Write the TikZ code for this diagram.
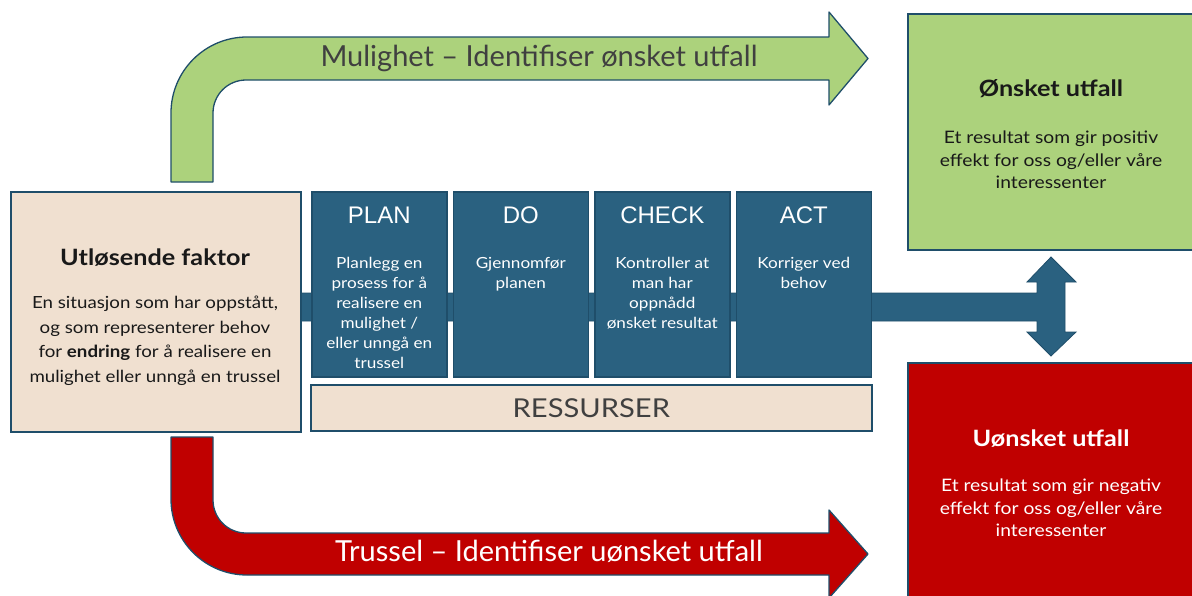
\documentclass[tikz,border=0pt]{standalone}
\usepackage{fontspec}
\setmainfont[FakeStretch=1.12]{Lato}
\newfontfamily\arrowfont{Lato}
\newfontfamily\headfont{Liberation Sans}
\usetikzlibrary{calc}
\definecolor{dblue}{RGB}{31,78,106}
\definecolor{pblue}{RGB}{42,97,128}
\definecolor{beige}{RGB}{240,224,208}
\definecolor{lgreen}{RGB}{172,210,124}
\definecolor{dred}{RGB}{192,0,0}
\definecolor{tgray}{RGB}{64,64,64}
\definecolor{tblack}{RGB}{25,25,25}
\begin{document}
\begin{tikzpicture}[x=1pt,y=-1pt,
  box/.style={draw=dblue,line width=1.6pt,rectangle,inner sep=0pt,anchor=north west},
  pdca/.style={box,fill=pblue,minimum width=135pt,minimum height=185pt},
  pdcahead/.style={anchor=base,text=white,font=\headfont\fontsize{24}{26}\selectfont,inner sep=0pt},
  pdcabody/.style={anchor=north,text=white,align=center,font=\fontsize{15.3}{20}\selectfont,inner sep=0pt},
  bigarrow/.style={draw=dblue,line width=1.3pt,line join=round},
  arrowtext/.style={font=\arrowfont\fontsize{29}{30}\selectfont,inner sep=0pt},
  title/.style={anchor=base,font=\fontsize{22.5}{25}\selectfont\bfseries,inner sep=0pt},
  body/.style={anchor=north,align=center,font=\fontsize{17.2}{22.5}\selectfont,inner sep=0pt}
]
\useasboundingbox (0,0) rectangle (1192,595);
\clip (0,0) rectangle (1192,595);

% green arrow (Mulighet)
\draw[bigarrow,fill=lgreen] (171,182) -- (171,113) arc[start angle=180,end angle=90,radius=76pt]
  -- (829,37) -- (829,12) -- (868,58.5) -- (829,105) -- (829,80) -- (246,80)
  arc[start angle=90,end angle=180,radius=33pt] -- (213,182) -- cycle;
\node[arrowtext,text=tgray] (mul) at (539,58) {Mulighet – Identifiser ønsket utfall};

% red arrow (Trussel)
\draw[bigarrow,fill=dred] (171,437) -- (171,499) arc[start angle=180,end angle=270,radius=76pt]
  -- (829,575) -- (829,598) -- (868,554) -- (829,510) -- (829,533) -- (246,533)
  arc[start angle=270,end angle=180,radius=33pt] -- (213,437) -- cycle;
\node[arrowtext,text=white] (tru) at (549,551) {Trussel – Identifiser uønsket utfall};

% band with double arrow
\draw[fill=pblue,draw=dblue,line width=0.8pt] (300,293) -- (1037,293) -- (1037,282) -- (1027,282) -- (1051,257)
  -- (1076,282) -- (1065,282) -- (1065,332) -- (1076,332) -- (1051,356) -- (1027,332) -- (1037,332)
  -- (1037,321) -- (300,321) -- cycle;

% trigger box
\node[box,fill=beige,minimum width=290pt,minimum height=240pt] (trigger) at (10,191) {};
\node[title,text=tblack] (triggertitle) at (155,265) {Utløsende faktor};
\node[body,text=tblack,font=\fontsize{16.7}{24.5}\selectfont] (triggerbody) at (155,296)
  {En situasjon som har oppstått,\\og som representerer behov\\for \textbf{endring} for å realisere en\\mulighet eller unngå en trussel};

% PDCA boxes
\node[pdca] (plan) at (311,191) {};
\node[pdca] (do) at (452.5,191) {};
\node[pdca] (check) at (594,191) {};
\node[pdca] (act) at (735.5,191) {};
\node[pdcahead] at ($(plan.north)+(0,32)$) {PLAN};
\node[pdcahead] at ($(do.north)+(0,32)$) {DO};
\node[pdcahead] at ($(check.north)+(0,32)$) {CHECK};
\node[pdcahead] at ($(act.north)+(0,32)$) {ACT};
\node[pdcabody] at ($(plan.north)+(0,66)$) {Planlegg en\\prosess for å\\realisere en\\mulighet /\\eller unngå en\\trussel};
\node[pdcabody] at ($(do.north)+(0,66)$) {Gjennomfør\\planen};
\node[pdcabody] at ($(check.north)+(0,66)$) {Kontroller at\\man har\\oppnådd\\ønsket resultat};
\node[pdcabody] at ($(act.north)+(0,66)$) {Korriger ved\\behov};

% resources
\node[box,fill=beige,minimum width=561pt,minimum height=46pt] (res) at (310,384) {};
\node[text=tgray,font=\fontsize{26}{28}\selectfont,inner sep=0pt] at (res.center) {RESSURSER};

% outcome boxes
\node[box,fill=lgreen,minimum width=300pt,minimum height=236pt] (good) at (907,13) {};
\node[title,text=tblack] at (1051,96) {Ønsket utfall};
\node[body,text=tblack] at (1051,131) {Et resultat som gir positiv\\effekt for oss og/eller våre\\interessenter};

\node[box,fill=dred,minimum width=300pt,minimum height=250pt] (bad) at (907,362) {};
\node[title,text=white] at (1051,446) {Uønsket utfall};
\node[body,text=white] at (1051,479) {Et resultat som gir negativ\\effekt for oss og/eller våre\\interessenter};
\end{tikzpicture}
\end{document}
